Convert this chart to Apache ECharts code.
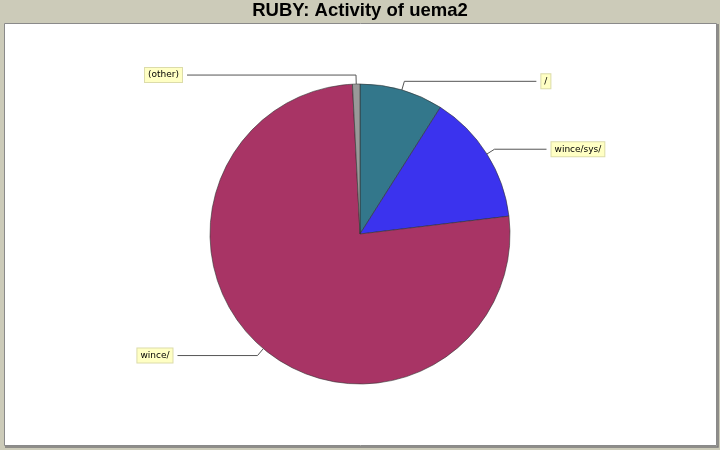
<!DOCTYPE html>
<html>
<head>
    <meta charset="UTF-8">
    <title>RUBY: Activity of uema2</title>
    <script src="https://cdn.jsdelivr.net/npm/echarts@6/dist/echarts.min.js"></script>
    <style>
        html, body {margin: 0; padding: 0; background: #cccbb9;}
        #main {width: 720px; height: 450px;}
    </style>
</head>
<body>
<div id="main"></div>
<script>
    // 数据
    var names = ['/', 'wince/sys/', 'wince/', '(other)'];
    var shares = [9.0, 14.1, 76.1, 0.8];
    var colors = ['#33778b', '#3b33ee', '#a83465', '#999999'];
    // 引导线第二段长度
    var lineLen2 = [132, 52, 80, 169];

    var myChart = echarts.init(document.getElementById('main'));

    var pieData = names.map(function (n, i) {
        return {
            name: n,
            value: shares[i],
            itemStyle: {color: colors[i]},
            labelLine: {length2: lineLen2[i]}
        };
    });

    myChart.setOption({
        backgroundColor: '#cccbb9',
        animation: false,
        title: {
            text: 'RUBY: Activity of uema2',
            left: 'center',
            top: 0,
            padding: [1, 5],
            textStyle: {
                fontFamily: 'Liberation Sans',
                fontWeight: 'bold',
                fontSize: 18.5,
                color: '#000'
            }
        },
        graphic: [{
            type: 'rect',
            shape: {x: 4.5, y: 23.5, width: 712, height: 422},
            style: {fill: '#ffffff', stroke: '#8a8a8a', lineWidth: 1},
            z: -10
        }, {
            type: 'polyline',
            shape: {points: [[718, 24], [718, 447], [5, 447]]},
            style: {fill: null, stroke: '#7a7a7a', lineWidth: 1.5},
            z: -10
        }],
        series: [{
            type: 'pie',
            center: [360, 234],
            radius: 150,
            startAngle: 90,
            clockwise: true,
            avoidLabelOverlap: false,
            itemStyle: {borderColor: '#333', borderWidth: 0.6},
            emphasis: {disabled: true},
            label: {
                show: true,
                formatter: '{b}',
                fontFamily: 'DejaVu Sans',
                fontSize: 9,
                color: '#000',
                backgroundColor: '#ffffc4',
                borderColor: '#dcdcaa',
                borderWidth: 1,
                padding: [3, 3, 2, 3]
            },
            labelLine: {
                show: true,
                length: 9,
                lineStyle: {color: '#555', width: 1}
            },
            data: pieData
        }]
    });
</script>
</body>
</html>
